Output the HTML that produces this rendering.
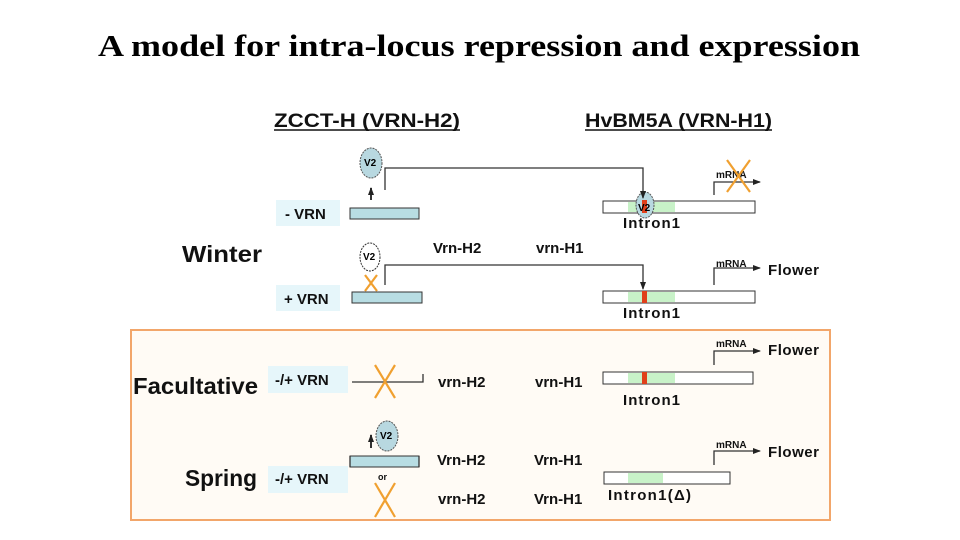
<!DOCTYPE html>
<html><head><meta charset="utf-8"><style>
html,body{margin:0;padding:0;background:#fff;}
svg{display:block;}
.h{font-family:"Liberation Sans",sans-serif;font-weight:bold;}
</style></head><body>
<svg width="960" height="540" viewBox="0 0 960 540" xmlns="http://www.w3.org/2000/svg">
<defs><marker id="a" markerWidth="8" markerHeight="8" refX="7" refY="4" orient="auto" markerUnits="userSpaceOnUse"><path d="M0,1 L8,4 L0,7z" fill="#222"/></marker></defs>
<text x="98" y="56" textLength="762" lengthAdjust="spacingAndGlyphs" font-family="Liberation Serif,serif" font-weight="bold" font-size="31">A model for intra-locus repression and expression</text>
<rect x="131" y="330" width="699" height="190" fill="#fffbf5" stroke="#f2a66a" stroke-width="2"/>
<g class="h" fill="#111">
<text x="274" y="127" font-size="19" textLength="186" lengthAdjust="spacingAndGlyphs">ZCCT-H (VRN-H2)</text>
<line x1="274" y1="130" x2="460" y2="130" stroke="#111" stroke-width="1.5"/>
<text x="585" y="127" font-size="19" textLength="187" lengthAdjust="spacingAndGlyphs">HvBM5A (VRN-H1)</text>
<line x1="585" y1="130" x2="772" y2="130" stroke="#111" stroke-width="1.5"/>
<text x="182" y="262" font-size="23" textLength="80" lengthAdjust="spacingAndGlyphs">Winter</text>
<text x="133" y="394" font-size="23" textLength="125" lengthAdjust="spacingAndGlyphs">Facultative</text>
<text x="185" y="486" font-size="23" textLength="72" lengthAdjust="spacingAndGlyphs">Spring</text>
</g>
<g fill="#e6f6fa">
<rect x="276" y="200" width="64" height="26"/><rect x="276" y="285" width="64" height="26"/>
<rect x="268" y="366" width="80" height="27"/><rect x="268" y="466" width="80" height="27"/>
</g>
<g class="h" font-size="15" fill="#111">
<text x="285" y="219">- VRN</text><text x="284" y="304">+ VRN</text>
<text x="275" y="385">-/+ VRN</text><text x="275" y="484">-/+ VRN</text>
<text x="433" y="253">Vrn-H2</text><text x="536" y="253">vrn-H1</text>
<text x="438" y="387">vrn-H2</text><text x="535" y="387">vrn-H1</text>
<text x="437" y="465">Vrn-H2</text><text x="534" y="465">Vrn-H1</text>
<text x="438" y="504">vrn-H2</text><text x="534" y="504">Vrn-H1</text>
<text x="623" y="228" textLength="57">Intron1</text><text x="623" y="318" textLength="57">Intron1</text>
<text x="623" y="405" textLength="57">Intron1</text><text x="608" y="500" textLength="83">Intron1(Δ)</text>
<text x="768" y="275" textLength="51">Flower</text><text x="768" y="355" textLength="51">Flower</text><text x="768" y="457" textLength="51">Flower</text>
</g>
<g class="h" font-size="10" fill="#111">
<text x="716" y="178">mRNA</text><text x="716" y="267">mRNA</text><text x="716" y="347">mRNA</text><text x="716" y="448">mRNA</text>
<text x="378" y="480" font-size="9">or</text>
</g>
<g fill="#b8dde3" stroke="#333" stroke-width="1">
<rect x="350" y="208" width="69" height="11"/><rect x="352" y="292" width="70" height="11"/><rect x="350" y="456" width="69" height="11"/>
</g>
<g stroke="#333" stroke-width="1">
<rect x="603" y="201" width="152" height="12" fill="#fff"/><rect x="628" y="202" width="47" height="10" fill="#c8f2c8" stroke="none"/>
<rect x="603" y="291" width="152" height="12" fill="#fff"/><rect x="628" y="292" width="47" height="10" fill="#c8f2c8" stroke="none"/>
<rect x="603" y="372" width="150" height="12" fill="#fff"/><rect x="628" y="373" width="47" height="10" fill="#c8f2c8" stroke="none"/>
<rect x="604" y="472" width="126" height="12" fill="#fff"/><rect x="628" y="473" width="35" height="10" fill="#c8f2c8" stroke="none"/>
</g>
<g fill="#e0401a"><rect x="642" y="291" width="5" height="12"/><rect x="642" y="372" width="5" height="12"/></g>
<ellipse cx="645" cy="205" rx="9" ry="13" fill="#b8d8e0" stroke="#555" stroke-dasharray="2,1"/>
<rect x="642" y="200" width="5" height="13" fill="#e0401a"/>
<text x="638" y="211" class="h" font-size="10">V2</text>
<ellipse cx="371" cy="163" rx="11" ry="15" fill="#b8d8e0" stroke="#555" stroke-dasharray="2,1"/>
<text x="364" y="166" class="h" font-size="10">V2</text>
<ellipse cx="370" cy="257" rx="10" ry="14" fill="#fff" stroke="#333" stroke-dasharray="2,1"/>
<text x="363" y="260" class="h" font-size="10">V2</text>
<ellipse cx="387" cy="436" rx="11" ry="15" fill="#b8d8e0" stroke="#555" stroke-dasharray="2,1"/>
<text x="380" y="439" class="h" font-size="10">V2</text>
<g fill="none" stroke="#333" stroke-width="1.3">
<path d="M385,190 V168 H643 V198" marker-end="url(#a)"/>
<path d="M385,285 V265 H643 V289" marker-end="url(#a)"/>
<path d="M352,382 H423 V374"/>
<path d="M350,467 V456 M419,467 V456"/>
<path d="M714,195 V182 H760" marker-end="url(#a)"/>
<path d="M714,285 V268 H760" marker-end="url(#a)"/>
<path d="M714,365 V351 H760" marker-end="url(#a)"/>
<path d="M714,465 V451 H760" marker-end="url(#a)"/>
<path d="M371,200 V188" stroke-width="2" marker-end="url(#a)"/>
<path d="M371,448 V435" stroke-width="2" marker-end="url(#a)"/>
</g>
<g stroke="#f0a030" stroke-width="2.2" fill="none">
<path d="M727,160 L750,192 M750,160 L727,192"/>
<path d="M365,275 L377,291 M377,275 L365,291"/>
<path d="M375,365 L395,398 M395,365 L375,398"/>
<path d="M375,483 L395,517 M395,483 L375,517"/>
</g>
</svg>
</body></html>
